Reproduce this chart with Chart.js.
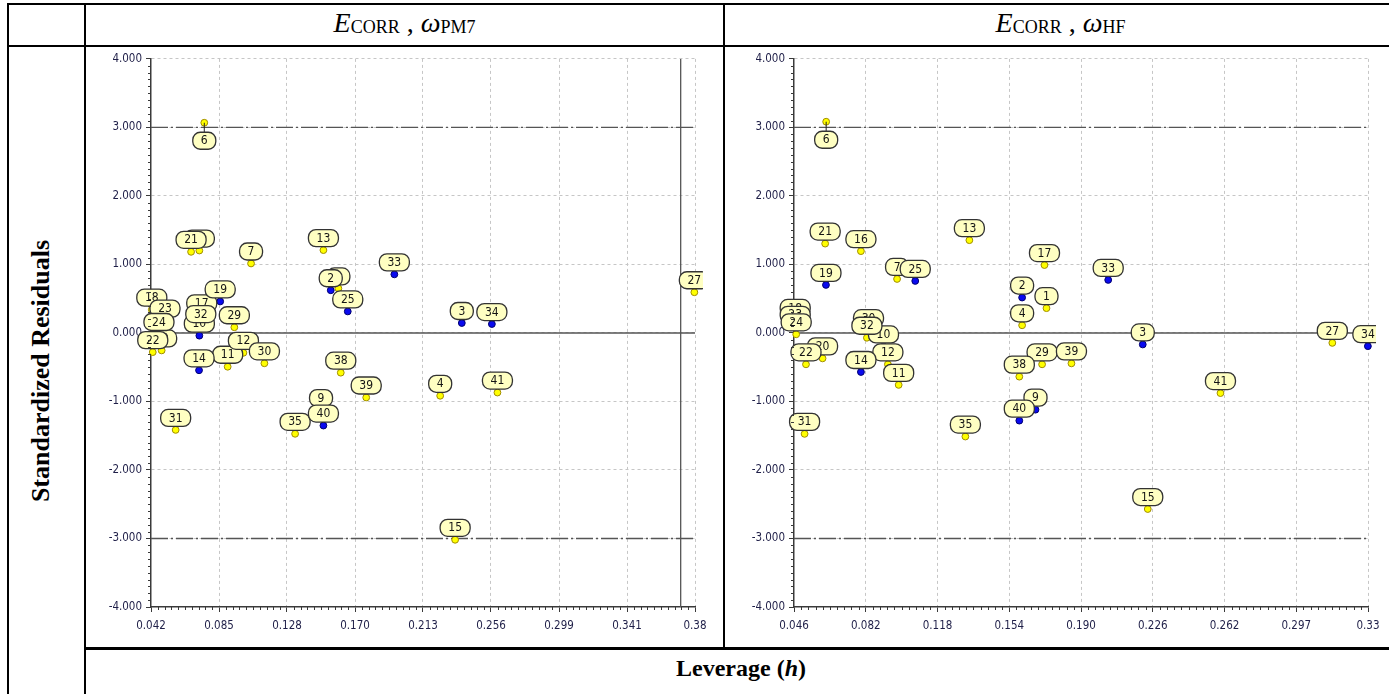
<!DOCTYPE html>
<html>
<head>
<meta charset="utf-8">
<title>Williams plots</title>
<script src="https://cdn.jsdelivr.net/npm/chart.js@4.4.0/dist/chart.umd.min.js"></script>
<style>
  html, body { margin: 0; padding: 0; background: #fff; }
  #page { position: relative; width: 1389px; height: 694px; overflow: hidden; background: #fff; }
  .hl { position: absolute; height: 2px; background: #000; }
  .vl { position: absolute; width: 2px; background: #000; }
  .title { position: absolute; top: 3px; height: 40px; display: flex; align-items: center; justify-content: center;
           font-family: "Liberation Serif", "Times New Roman", serif; font-size: 28px; color: #000; white-space: nowrap; }
  .title sub { font-size: 18px; vertical-align: baseline; position: relative; top: 4px; }
  .bold { font-family: "Liberation Serif", "Times New Roman", serif; font-weight: bold; font-size: 24px; color: #000; white-space: nowrap; }
  canvas { position: absolute; }
</style>
</head>
<body>
<div id="page">
  <!-- table rules -->
  <div class="hl" style="left:7px; top:3px; width:1389px;"></div>
  <div class="hl" style="left:7px; top:45px; width:1389px;"></div>
  <div class="hl" style="left:84px; top:647px; width:1312px; height:3px;"></div>
  <div class="vl" style="left:7px; top:3px; height:691px;"></div>
  <div class="vl" style="left:84px; top:3px; height:691px;"></div>
  <div class="vl" style="left:723px; top:3px; height:645px;"></div>

  <div class="title" style="left:86px; width:637px;"><i>E</i><sub>CORR</sub>&nbsp;,&nbsp;<i>ω</i><sub>PM7</sub></div>
  <div class="title" style="left:725px; width:671px;"><i>E</i><sub>CORR</sub>&nbsp;,&nbsp;<i>ω</i><sub>HF</sub></div>

  <div style="position:absolute; left:9px; top:47px; width:64px; height:647px; display:flex; align-items:center; justify-content:center;">
    <span class="bold" style="display:inline-block; transform:rotate(-90deg); font-size:26px;">Standardized Residuals</span>
  </div>
  <div style="position:absolute; left:86px; top:650px; width:1310px; height:36px; display:flex; align-items:center; justify-content:center;">
    <span class="bold">Leverage (<i>h</i>)</span>
  </div>

  <canvas id="pm7" width="634" height="598" style="left:88px; top:48px;"></canvas>
  <canvas id="hf" width="662" height="598" style="left:727px; top:48px;"></canvas>
</div>

<script>
// Compound numbers and their set (train / test), shared by both models
const compounds = [1, 2, 3, 4, 6, 7, 9, 10, 11, 12, 13, 14, 15, 16, 17, 18, 19, 20, 21, 22, 23, 24, 25, 27, 29, 30, 31, 32, 33, 34, 35, 38, 39, 40, 41];
const compoundSet = ['train','test','test','train','train','train','test','test','train','train','train','test','train','train','train','train','test','train','train','train','train','train','test','train','train','train','train','train','test','test','train','train','train','test','train'];

// E_CORR model with PM7 descriptors
const pm7Leverage = [0.1598, 0.1550, 0.2374, 0.2238, 0.0755, 0.1049, 0.1489, 0.0724, 0.0902, 0.1001, 0.1504, 0.0722, 0.2332, 0.0724, 0.0739, 0.0425, 0.0855, 0.0487, 0.0672, 0.0431, 0.0508, 0.0470, 0.1657, 0.3836, 0.0944, 0.1133, 0.0575, 0.0733, 0.1950, 0.2563, 0.1326, 0.1613, 0.1773, 0.1504, 0.2598];
const pm7Residual = [0.650, 0.623, 0.145, -0.917, 3.068, 1.014, -1.125, -0.040, -0.493, -0.290, 1.209, -0.545, -3.019, 1.203, 0.257, 0.340, 0.460, -0.255, 1.184, -0.280, 0.180, -0.015, 0.314, 0.594, 0.083, -0.443, -1.415, 0.100, 0.855, 0.130, -1.472, -0.580, -0.942, -1.352, -0.870];

// E_CORR model with HF descriptors
const hfLeverage = [0.1725, 0.1603, 0.2207, 0.1603, 0.0622, 0.0977, 0.1670, 0.0909, 0.0985, 0.0931, 0.1339, 0.0796, 0.2232, 0.0796, 0.1715, 0.0467, 0.0621, 0.0604, 0.0617, 0.0521, 0.0467, 0.0472, 0.1068, 0.3156, 0.1703, 0.0834, 0.0514, 0.0826, 0.2034, 0.3334, 0.1319, 0.1589, 0.1850, 0.1589, 0.2596];
const hfResidual = [0.362, 0.517, -0.168, 0.112, 3.083, 0.788, -1.120, -0.197, -0.758, -0.458, 1.354, -0.570, -2.570, 1.194, 0.991, 0.190, 0.701, -0.371, 1.304, -0.458, 0.090, -0.020, 0.759, -0.145, -0.458, 0.040, -1.473, -0.070, 0.774, -0.193, -1.512, -0.638, -0.444, -1.280, -0.878];

// Axis ticks
const pm7XTicks = [0.042, 0.08475, 0.1275, 0.17025, 0.213, 0.25575, 0.2985, 0.34125, 0.384];
const pm7XLabels = ['0.042', '0.085', '0.128', '0.170', '0.213', '0.256', '0.299', '0.341', '0.38'];
const hfXTicks = [0.0461, 0.08202, 0.11794, 0.15386, 0.18978, 0.2257, 0.26162, 0.29754, 0.33346];
const hfXLabels = ['0.046', '0.082', '0.118', '0.154', '0.190', '0.226', '0.262', '0.297', '0.33'];
const yTicks = [-4, -3, -2, -1, 0, 1, 2, 3, 4];
const yLabels = ['-4.000', '-3.000', '-2.000', '-1.000', '0.000', '1.000', '2.000', '3.000', '4.000'];

// Residual cut-offs and warning leverage h*
const residualLimits = [3, -3];
const pm7HStar = 0.375;

const TICK_FONT = { family: '"DejaVu Sans Condensed", "DejaVu Sans", sans-serif', size: 11.5 };
const TICK_COLOR = '#1f1f48';
const AXIS_COLOR = '#3a3a3a';
const REF_COLOR = '#555555';

// small unlabelled ticks between the major ones (10 subdivisions)
const minorTicks = {
  id: 'minorTicks',
  afterDraw(chart) {
    const { ctx, chartArea: a } = chart;
    const xs = chart.scales.x, ys = chart.scales.y;
    ctx.save();
    ctx.strokeStyle = AXIS_COLOR;
    ctx.lineWidth = 1;
    ctx.beginPath();
    const xt = xs.ticks.map(t => t.value);
    for (let i = 0; i < xt.length - 1; i++) {
      for (let k = 1; k < 10; k++) {
        const px = Math.round(xs.getPixelForValue(xt[i] + (xt[i + 1] - xt[i]) * k / 10)) + 0.5;
        ctx.moveTo(px, a.bottom);
        ctx.lineTo(px, a.bottom + 3);
      }
    }
    const yt = ys.ticks.map(t => t.value);
    for (let i = 0; i < yt.length - 1; i++) {
      for (let k = 1; k < 10; k++) {
        const py = Math.round(ys.getPixelForValue(yt[i] + (yt[i + 1] - yt[i]) * k / 10)) + 0.5;
        ctx.moveTo(a.left, py);
        ctx.lineTo(a.left - 3, py);
      }
    }
    ctx.stroke();
    ctx.restore();
  }
};

// pale yellow name tags sitting on each point
const idTags = {
  id: 'idTags',
  afterDatasetsDraw(chart, args, opts) {
    const meta = chart.getDatasetMeta(0);
    const { ctx, chartArea: a } = chart;
    ctx.save();
    ctx.beginPath();
    ctx.rect(0, 0, a.right + 8, a.bottom);
    ctx.clip();
    ctx.font = '12px "DejaVu Sans Condensed", "DejaVu Sans", sans-serif';
    ctx.textAlign = 'center';
    ctx.textBaseline = 'middle';
    meta.data.forEach((pt, i) => {
      const label = String(compounds[i]);
      const below = opts.below.includes(compounds[i]);
      const w = Math.round(ctx.measureText(label).width) + 16;
      const h = 17;
      const cx = pt.x;
      const cy = below ? pt.y + 18 : pt.y - 12;
      if (below) {
        ctx.strokeStyle = '#222';
        ctx.lineWidth = 1;
        ctx.beginPath();
        ctx.moveTo(cx, pt.y);
        ctx.lineTo(cx, cy - h / 2);
        ctx.stroke();
      }
      const x0 = cx - w / 2, y0 = cy - h / 2, r = 7.5;
      ctx.beginPath();
      ctx.moveTo(x0 + r, y0);
      ctx.lineTo(x0 + w - r, y0);
      ctx.arcTo(x0 + w, y0, x0 + w, y0 + r, r);
      ctx.lineTo(x0 + w, y0 + h - r);
      ctx.arcTo(x0 + w, y0 + h, x0 + w - r, y0 + h, r);
      ctx.lineTo(x0 + r, y0 + h);
      ctx.arcTo(x0, y0 + h, x0, y0 + h - r, r);
      ctx.lineTo(x0, y0 + r);
      ctx.arcTo(x0, y0, x0 + r, y0, r);
      ctx.closePath();
      ctx.fillStyle = '#ffffc2';
      ctx.fill();
      ctx.strokeStyle = '#333333';
      ctx.lineWidth = 1.3;
      ctx.stroke();
      ctx.fillStyle = '#141414';
      ctx.fillText(label, cx, cy + 0.5);
    });
    ctx.restore();
  }
};

function refLine(points, dash, width) {
  return {
    type: 'line', data: points, borderColor: REF_COLOR, borderWidth: width, borderDash: dash,
    pointRadius: 0, pointHoverRadius: 0, fill: false, tension: 0, order: 1
  };
}

function buildChart(id, leverage, residual, xTicks, xLabels, yWidth, padRight, hStar) {
  const xMin = xTicks[0], xMax = xTicks[xTicks.length - 1];
  const datasets = [{
    type: 'scatter',
    data: leverage.map((h, i) => ({ x: h, y: residual[i] })),
    backgroundColor: compoundSet.map(s => s === 'test' ? '#0a0aef' : '#ffff00'),
    borderColor: compoundSet.map(s => s === 'test' ? '#00006e' : '#a08c00'),
    borderWidth: 1, pointRadius: 3.4, pointHoverRadius: 3.4, clip: false, order: 0
  }];
  residualLimits.forEach(v => datasets.push(refLine([{ x: xMin, y: v }, { x: xMax, y: v }], [17, 3, 2, 3], 1.4)));
  datasets.push(refLine([{ x: xMin, y: 0 }, { x: xMax, y: 0 }], [], 1.5));
  if (hStar) datasets.push(refLine([{ x: hStar, y: -4 }, { x: hStar, y: 4 }], [], 1.3));

  const gridColor = c => (c.index === 0 ? 'rgba(0,0,0,0)' : '#c6c6c6');
  return new Chart(document.getElementById(id), {
    data: { datasets },
    plugins: [minorTicks, idTags],
    options: {
      responsive: false, animation: false, devicePixelRatio: 1,
      layout: { padding: { left: 0, top: 8, right: padRight, bottom: 0 } },
      plugins: { legend: { display: false }, tooltip: { enabled: false }, idTags: { below: [6] } },
      events: [],
      scales: {
        x: {
          type: 'linear', min: xMin, max: xMax,
          afterBuildTicks: s => { s.ticks = xTicks.map(v => ({ value: v })); },
          afterFit: s => { s.height = 39; },
          ticks: { callback: (v, i) => xLabels[i], font: TICK_FONT, color: TICK_COLOR, padding: 7, autoSkip: false, maxRotation: 0 },
          grid: { color: gridColor, lineWidth: 1, tickColor: AXIS_COLOR, tickLength: 5, tickWidth: 1 },
          border: { color: AXIS_COLOR, width: 1.5, dash: [3, 3] }
        },
        y: {
          type: 'linear', min: -4, max: 4,
          afterBuildTicks: s => { s.ticks = yTicks.map(v => ({ value: v })); },
          afterFit: s => { s.width = yWidth; },
          ticks: { callback: (v, i) => yLabels[i], font: TICK_FONT, color: TICK_COLOR, padding: 4, autoSkip: false },
          grid: { color: gridColor, lineWidth: 1, tickColor: AXIS_COLOR, tickLength: 5, tickWidth: 1 },
          border: { color: AXIS_COLOR, width: 1.5, dash: [3, 3] }
        }
      }
    }
  });
}

buildChart('pm7', pm7Leverage, pm7Residual, pm7XTicks, pm7XLabels, 63, 27, pm7HStar);
buildChart('hf', hfLeverage, hfResidual, hfXTicks, hfXLabels, 67, 21, null);
</script>
</body>
</html>
